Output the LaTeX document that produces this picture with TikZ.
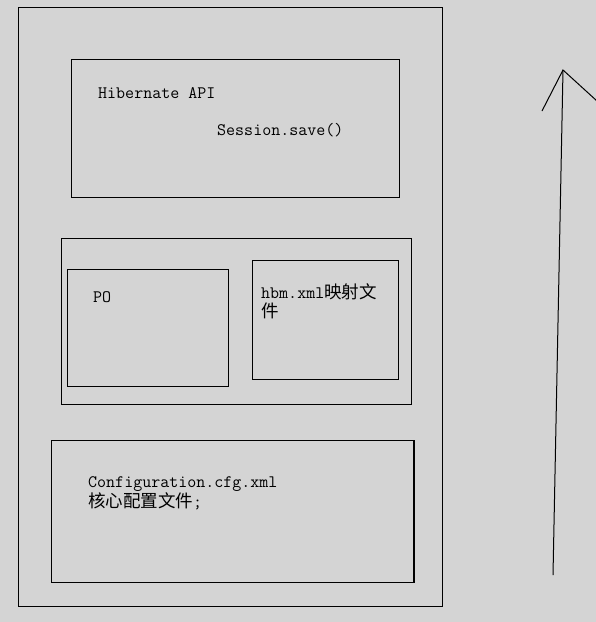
\documentclass[tikz,border=0pt]{standalone}
\usepackage{fontspec}
\newfontfamily\cjk{Noto Sans CJK SC}
\definecolor{bg}{RGB}{212,212,212}
\begin{document}
\begin{tikzpicture}[x=1pt,y=-1pt,
  box/.style={draw=black, line width=1pt, rectangle, inner sep=0pt, anchor=north west},
  lbl/.style={anchor=base west, inner sep=0pt, font=\fontsize{17.5}{18}\selectfont\ttfamily},
  line/.style={draw=black, line width=1pt}]
\fill[bg] (0,0) rectangle (596,622);
\useasboundingbox (0,0) rectangle (596,622);
% boxes
\node[box, minimum width=424pt, minimum height=599pt] (outer) at (18,7) {};
\node[box, minimum width=328pt, minimum height=138pt] (api) at (71,59) {};
\node[box, minimum width=349.5pt, minimum height=166pt] (mid) at (61,238) {};
\node[box, minimum width=161pt, minimum height=117pt] (po) at (67,269) {};
\node[box, minimum width=146pt, minimum height=118.5pt] (hbm) at (252,260) {};
\node[box, minimum width=361.5pt, minimum height=142pt] (cfg) at (51,440) {};
\draw[line width=2pt] (cfg.north east) -- (cfg.south east);
% texts
\node[lbl] (t1) at (98,98) {Hibernate API};
\node[lbl] (t2) at (217,135) {Session.save()};
\node[lbl] (t3) at (93,302) {PO};
\node[lbl] (t4) at (261,298) {hbm.xml{\cjk 映射文}};
\node[lbl] (t5) at (261,317) {{\cjk 件}};
\node[lbl] (t6) at (88,487) {Configuration.cfg.xml};
\node[lbl] (t7) at (88,507) {{\cjk 核心配置文件};};
% arrow
\coordinate (arrowbot) at (553,575);
\coordinate (arrowtop) at (563,70);
\coordinate (tipL) at (542,111);
\coordinate (tipR) at (597,101);
\draw[line] (arrowbot) -- (arrowtop);
\draw[line] (tipL) -- (arrowtop) -- (tipR);
\end{tikzpicture}
\end{document}
